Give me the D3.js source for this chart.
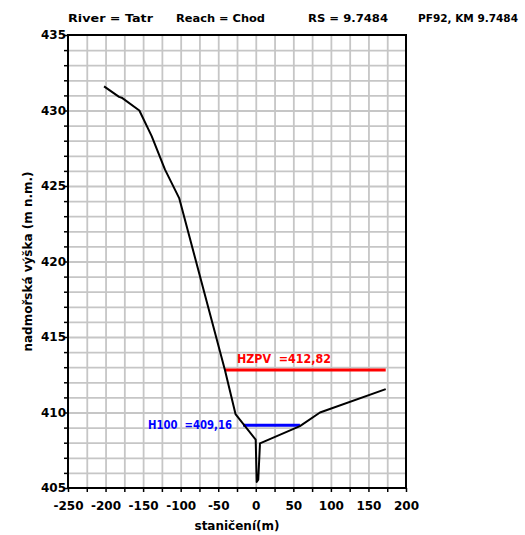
<!DOCTYPE html>
<html lang="cs">
    <head>
        <meta charset="utf-8">
        <title>PF92 prurez</title>
        <script src="https://d3js.org/d3.v7.min.js"></script>
        <style type="text/css">
            body { margin: 0; background: white; }
            text {
              font-family: "DejaVu Sans", "Verdana", sans-serif;
              font-size: 12px;
              font-weight: bold;
            }
        </style>
    </head>
    <body>
        <div id="chart"></div>
        <script type="text/javascript">

        //CONSTANTS
            const w = 525;
            const h = 535;
            const margin = {top: 35, right: 119, bottom: 47, left: 68};

        //DATA - stationing (m) and elevation (m n.m.)
            const stationing = [-202, -182, -178.5, -155, -138.6, -121, -102, -41, -27, -0.1, 1.2, 3.3, 5.6, 58.8, 85.5, 173];
            const elevation  = [431.6, 430.9, 430.85, 430.0, 428.3, 426.1, 424.2, 412.8, 409.9, 408.2, 405.4, 405.55, 407.96, 409.1, 410.0, 411.55];

            const levelNames  = ["HZPV", "H100"];
            const levelValues = [412.82, 409.16];
            const levelFrom   = [-41, -17];
            const levelTo     = [173, 58.8];
            const levelColors = ["#ff0000", "#0000ff"];

            const xTicks = [-250, -200, -150, -100, -50, 0, 50, 100, 150, 200];
            const yTicks = [405, 410, 415, 420, 425, 430, 435];

            const titles = ["River = Tatr", "Reach = Chod", "RS = 9.7484", "PF92, KM 9.7484"];

            const terrain = stationing.map((s, i) => ({x: s, y: elevation[i]}));

        //SCALES
            const xScale = d3.scaleLinear()
                            .domain([-250, 200])
                            .range([margin.left, w - margin.right]);
            const yScale = d3.scaleLinear()
                            .domain([405, 435])
                            .range([h - margin.bottom, margin.top]);

            const svg = d3.select("#chart")
                    .append("svg")
                    .attr("width", w)
                    .attr("height", h);

        //GRID - every 25 m and every 1 m
            const xGrid = d3.axisBottom(xScale)
                .tickValues(d3.range(-225, 200, 25))
                .tickSize(-(yScale(405) - yScale(435)))
                .tickFormat("");
            const yGrid = d3.axisLeft(yScale)
                .tickValues(d3.range(406, 435, 1))
                .tickSize(-(xScale(200) - xScale(-250)))
                .tickFormat("");

            const gxGrid = svg.append("g")
                .attr("transform", "translate(0," + yScale(405) + ")")
                .call(xGrid);
            const gyGrid = svg.append("g")
                .attr("transform", "translate(" + xScale(-250) + ",0)")
                .call(yGrid);
            [gxGrid, gyGrid].forEach(g => {
                g.select(".domain").remove();
                g.selectAll("line").attr("stroke", "#c6c6c6").attr("stroke-width", 1.8);
            });

        //AXES
            const bottomAxis = d3.axisBottom(xScale)
                .tickValues(d3.range(-250, 201, 25))
                .tickSize(4)
                .tickFormat(d => xTicks.includes(d) ? String(d) : "");
            const leftAxis = d3.axisLeft(yScale)
                .tickValues(d3.range(405, 436, 1))
                .tickSize(4)
                .tickFormat(d => yTicks.includes(d) ? String(d) : "");

            const gx = svg.append("g")
                .attr("transform", "translate(0," + (h - margin.bottom) + ")")
                .call(bottomAxis);
            gx.select(".domain").remove();
            gx.selectAll("text").attr("dy", "1.25em").attr("fill", "black");
            gx.selectAll("line").attr("stroke", "black").attr("stroke-width", 1.5);

            const gy = svg.append("g")
                .attr("transform", "translate(" + margin.left + ",0)")
                .call(leftAxis);
            gy.select(".domain").remove();
            gy.selectAll("text").attr("x", -2).attr("fill", "black");
            gy.selectAll("line").attr("stroke", "black").attr("stroke-width", 1.5);

        //FRAME
            svg.append("rect")
                .attr("x", xScale(-250))
                .attr("y", yScale(435))
                .attr("width", xScale(200) - xScale(-250))
                .attr("height", yScale(405) - yScale(435))
                .attr("fill", "none")
                .attr("stroke", "black")
                .attr("stroke-width", 2);

        //WATER LEVELS
            levelNames.forEach((name, i) => {
                svg.append("line")
                    .attr("x1", xScale(levelFrom[i]))
                    .attr("x2", xScale(levelTo[i]))
                    .attr("y1", yScale(levelValues[i]))
                    .attr("y2", yScale(levelValues[i]))
                    .attr("stroke", levelColors[i])
                    .attr("stroke-width", 3);
            });

        //TERRAIN
            const line = d3.line().x(d => xScale(d.x)).y(d => yScale(d.y));
            svg.append("path")
                .datum(terrain)
                .attr("d", line)
                .attr("fill", "none")
                .attr("stroke", "black")
                .attr("stroke-width", 2)
                .attr("stroke-linejoin", "round");

        //LEVEL LABELS
            svg.append("text")
                .attr("x", xScale(levelFrom[0]) + 12)
                .attr("y", yScale(levelValues[0]) - 7)
                .attr("fill", levelColors[0])
                .attr("textLength", 94)
                .attr("lengthAdjust", "spacingAndGlyphs")
                .style("white-space", "pre")
                .text(levelNames[0] + "  =" + levelValues[0].toFixed(2).replace(".", ","));
            svg.append("text")
                .attr("x", xScale(levelFrom[1]) - 95)
                .attr("y", yScale(levelValues[1]) + 4)
                .attr("fill", levelColors[1])
                .attr("textLength", 84)
                .attr("lengthAdjust", "spacingAndGlyphs")
                .style("white-space", "pre")
                .text(levelNames[1] + "  =" + levelValues[1].toFixed(2).replace(".", ","));

        //TITLE
            const titleX = [68, 176, 308, 418];
            const titleW = [85, 89, 80, 100];
            svg.selectAll(".title")
                .data(titles)
                .enter().append("text")
                .attr("class", "title")
                .attr("x", (d, i) => titleX[i])
                .attr("y", 22)
                .style("font-size", "11px")
                .attr("textLength", (d, i) => titleW[i])
                .attr("lengthAdjust", "spacingAndGlyphs")
                .text(d => d);

        //AXIS LABELS
            svg.append("text")
                .attr("x", xScale(-25))
                .attr("y", 530)
                .attr("text-anchor", "middle")
                .text("staničení(m)");
            svg.append("text")
                .attr("transform", "translate(32," + yScale(420) + ") rotate(-90)")
                .attr("text-anchor", "middle")
                .text("nadmořská výška (m n.m.)");
        </script>
    </body>
</html>
